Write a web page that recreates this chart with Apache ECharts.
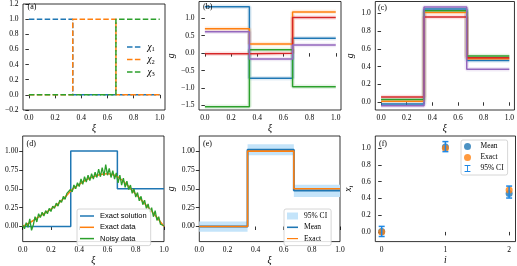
<!DOCTYPE html>
<html><head><meta charset="utf-8">
<script src="https://cdn.jsdelivr.net/npm/echarts@6/dist/echarts.min.js"></script>
<style>html,body{margin:0;padding:0;background:#fff}#c{width:517px;height:266px}</style>
</head><body><div id="c"></div>
<script>
// ---------------- data ----------------
// (a) indicator functions chi_1..3 (level on each of 3 sub-intervals)
const aBreaks = [0.335, 0.665];
const chi1 = [1, 0, 0];
const chi2 = [0, 1, 0];
const chi3 = [0, 0, 1];
// (b) prior samples (levels on the 3 sub-intervals)
const bBreaks = [0.34, 0.67];
const bBlue   = [1.33, -0.72, 0.43];
const bOrange = [0.70, 0.26, 1.18];
const bGreen  = [-1.54, 0.10, -0.96];
const bRed    = [-0.02, 0.00, 1.02];
const bPurple = [0.61, -0.17, 0.23];
// (c) posterior samples
const cBreaks = [0.335, 0.668];
const cBlue   = [-0.02, 1.05, 0.47];
const cOrange = [0.01, 1.01, 0.49];
const cGreen  = [0.03, 1.03, 0.52];
const cRed    = [0.06, 0.96, 0.50];
const cPurple = [-0.04, 1.07, 0.37];
// (d) exact solution, exact data, noisy data
const dBreaks = [0.34, 0.67];
const exactSolution = [0, 1, 0.5];
const exactDataX = [0,0.05,0.1,0.15,0.2,0.25,0.3,0.35,0.4,0.45,0.5,0.55,0.6,0.65,0.7,0.75,0.8,0.85,0.9,0.95,1.0];
const exactData  = [0.0,0.05,0.11,0.17,0.23,0.30,0.39,0.49,0.56,0.62,0.66,0.69,0.70,0.68,0.62,0.53,0.43,0.33,0.23,0.12,0.0];
const noisyData = [0.02,-0.03,0.05,-0.01,0.10,-0.05,0.02,0.13,0.06,0.17,0.12,0.19,0.14,0.21,0.17,0.24,
  0.20,0.27,0.24,0.31,0.27,0.35,0.32,0.40,0.36,0.44,0.42,0.49,0.46,0.55,0.50,0.58,0.53,0.63,0.56,0.66,
  0.59,0.68,0.61,0.70,0.63,0.72,0.65,0.76,0.66,0.78,0.67,0.82,0.68,0.77,0.65,0.74,0.63,0.71,0.58,0.68,
  0.55,0.64,0.52,0.60,0.49,0.55,0.44,0.50,0.39,0.45,0.34,0.40,0.29,0.35,0.24,0.30,0.19,0.25,0.13,0.21,
  0.08,0.13,0.03,0.05,0.01];
// (e) posterior mean, exact, 95% CI band
const eBreaks = [0.343, 0.672];
const eMean  = [0.0, 1.017, 0.478];
const eExact = [0, 1, 0.5];
const eLow   = [-0.07, 0.945, 0.39];
const eHigh  = [0.065, 1.09, 0.555];
// (f) coefficients x_i
const fIdx   = [0, 1, 2];
const fMean  = [0.005, 1.015, 0.46];
const fExact = [0, 1, 0.5];
const fLow   = [-0.055, 0.96, 0.405];
const fHigh  = [0.066, 1.08, 0.548];
// tick values
const xTicks01 = [0, 0.2, 0.4, 0.6, 0.8, 1.0];
const yTicksA = [-0.2, 0, 0.2, 0.4, 0.6, 0.8, 1.0, 1.2];
const yTicksB = [-1.5, -1.0, -0.5, 0, 0.5, 1.0];
const yTicksC = [0, 0.2, 0.4, 0.6, 0.8, 1.0];
const yTicksDE = [0, 0.25, 0.5, 0.75, 1.0];
const yTicksF = [0, 0.2, 0.4, 0.6, 0.8, 1.0];
const xTicksF = [0, 1, 2];

// ---------------- styling ----------------
const SERIF = 'Liberation Serif', SANS = 'Liberation Sans';
const COL = {blue:'#1f77b4', orange:'#ff7f0e', green:'#2ca02c', red:'#d62728', purple:'#9467bd'};
const BAND = '#c4e4fa';
const ERR = '#1e88e5';
const ICON_LINE = 'path://M0,0H14V1.5H0Z';
const ICON_LINE2 = 'path://M0,0H14V2H0Z';
const ICON_DASH = 'path://M0,0H5.5V1.5H0Z M7.9,0H13.4V1.5H7.9Z';
const ICON_ERR = 'path://M0,0H10V1.6H5.8V10.4H10V12H0V10.4H4.2V1.6H0Z';

function steps(levels, br) {
  const xs = [0, ...br, 1]; const out = [];
  levels.forEach((v, i) => { out.push([xs[i], v], [xs[i + 1], v]); });
  return out;
}
const fmt = d => v => (v < 0 ? '\u2212' : '') + Math.abs(v).toFixed(d);

function xAx(gi, min, max, ticks, dec, name) {
  return {type:'value', gridIndex:gi, min, max, name, nameLocation:'middle', nameGap:12,
    nameTextStyle:{fontFamily:SERIF, fontStyle:'italic', fontSize:9.5, color:'#000'},
    axisLine:{show:false}, splitLine:{show:false},
    axisTick:{show:true, customValues:ticks, length:3.5, lineStyle:{color:'#000', width:0.8}},
    axisLabel:{customValues:ticks, formatter:fmt(dec), fontSize:7.5, color:'#000', margin:4.5, fontFamily:SERIF}};
}
function yAx(gi, min, max, ticks, dec, name, gap, rich) {
  const o = {type:'value', gridIndex:gi, min, max, name, nameLocation:'middle', nameGap:gap, nameRotate:90,
    nameTextStyle:{fontFamily:SERIF, fontStyle:'italic', fontSize:9.5, color:'#000'},
    axisLine:{show:false}, splitLine:{show:false},
    axisTick:{show:true, customValues:ticks, length:3.5, lineStyle:{color:'#000', width:0.8}},
    axisLabel:{customValues:ticks, formatter:fmt(dec), fontSize:7.5, color:'#000', margin:4.5, fontFamily:SERIF}};
  if (rich) o.nameTextStyle.rich = rich;
  return o;
}
function line(name, gi, data, color, extra) {
  return Object.assign({type:'line', name, xAxisIndex:gi, yAxisIndex:gi, data, symbol:'none',
    lineStyle:{color, width:1.5}, itemStyle:{color}, clip:true}, extra || {});
}
function halo(gi, data, color) {
  return {type:'line', xAxisIndex:gi, yAxisIndex:gi, data, symbol:'none', silent:true,
    lineStyle:{color, width:4.5, opacity:0.13}, clip:true};
}

const grids = [
  {left:23, top:1.5, width:142, height:108.5},
  {left:199, top:1.5, width:142, height:108.5},
  {left:375.3, top:1.5, width:139.2, height:108.5},
  {left:22.7, top:136, width:141.3, height:109},
  {left:199.3, top:136, width:140.7, height:109},
  {left:375.3, top:136, width:140.2, height:109}
].map(g => Object.assign(g, {show:true, borderColor:'#000', borderWidth:0.8, backgroundColor:'transparent'}));

const series = [];
// (a)
[[ 'a|1', chi1, COL.blue], ['a|2', chi2, COL.orange], ['a|3', chi3, COL.green]].forEach(([n, lv, c]) => {
  series.push(line(n, 0, steps(lv, aBreaks), c, {lineStyle:{color:c, width:1.5, type:[5.5, 2.4]}}));
});
// (b)
[[bBlue, COL.blue], [bOrange, COL.orange], [bGreen, COL.green], [bRed, COL.red], [bPurple, COL.purple]].forEach(([lv, c]) => {
  series.push(halo(1, steps(lv, bBreaks), c));
});
[[bBlue, COL.blue], [bOrange, COL.orange], [bGreen, COL.green], [bRed, COL.red], [bPurple, COL.purple]].forEach(([lv, c], i) => {
  series.push(line('b' + i, 1, steps(lv, bBreaks), c));
});
// (c)
[[cBlue, COL.blue], [cOrange, COL.orange], [cGreen, COL.green], [cRed, COL.red], [cPurple, COL.purple]].forEach(([lv, c]) => {
  series.push(halo(2, steps(lv, cBreaks), c));
});
[[cBlue, COL.blue], [cOrange, COL.orange], [cGreen, COL.green], [cRed, COL.red], [cPurple, COL.purple]].forEach(([lv, c], i) => {
  series.push(line('c' + i, 2, steps(lv, cBreaks), c));
});
// (d)
series.push(line('d|Exact solution', 3, steps(exactSolution, dBreaks), COL.blue));
series.push(line('d|Exact data', 3, exactDataX.map((x, i) => [x, exactData[i]]), COL.orange, {smooth:0.3}));
series.push(line('d|Noisy data', 3, noisyData.map((v, i) => [i / (noisyData.length - 1), v]), COL.green, {lineStyle:{color:COL.green, width:1.3}}));
// (e)
const eX = [0, ...eBreaks, 1];
series.push({type:'custom', name:'e|95% CI', xAxisIndex:4, yAxisIndex:4, clip:true, itemStyle:{color:BAND},
  data: eLow.map((lo, i) => [eX[i], eX[i + 1], lo, eHigh[i]]),
  encode:{x:[0, 1], y:[2, 3]},
  renderItem: (params, api) => {
    const p0 = api.coord([api.value(0), api.value(3)]);
    const p1 = api.coord([api.value(1), api.value(2)]);
    return {type:'rect', shape:{x:p0[0], y:p0[1], width:p1[0] - p0[0], height:p1[1] - p0[1]}, style:{fill:BAND}};
  }});
series.push(line('e|Mean', 4, steps(eMean, eBreaks), COL.blue, {lineStyle:{color:COL.blue, width:2}}));
series.push(line('e|Exact', 4, steps(eExact, eBreaks), COL.orange, {lineStyle:{color:COL.orange, width:1.6}}));
// (f)
series.push({type:'scatter', name:'f|Mean', xAxisIndex:5, yAxisIndex:5, symbolSize:7,
  itemStyle:{color:COL.blue}, data: fIdx.map((x, i) => [x, fMean[i]]), z:2});
series.push({type:'scatter', name:'f|Exact', xAxisIndex:5, yAxisIndex:5, symbolSize:7,
  itemStyle:{color:COL.orange}, data: fIdx.map((x, i) => [x, fExact[i]]), z:2});
series.push({type:'custom', name:'f|95% CI', xAxisIndex:5, yAxisIndex:5, itemStyle:{color:ERR}, z:3,
  data: fIdx.map((x, i) => [x, fLow[i], fHigh[i]]),
  encode:{x:0, y:[1, 2]},
  renderItem: (params, api) => {
    const top = api.coord([api.value(0), api.value(2)]);
    const bot = api.coord([api.value(0), api.value(1)]);
    const st = {stroke:ERR, lineWidth:1.5};
    return {type:'group', children:[
      {type:'line', shape:{x1:top[0], y1:top[1], x2:bot[0], y2:bot[1]}, style:st},
      {type:'line', shape:{x1:top[0] - 3, y1:top[1], x2:top[0] + 3, y2:top[1]}, style:st},
      {type:'line', shape:{x1:bot[0] - 3, y1:bot[1], x2:bot[0] + 3, y2:bot[1]}, style:st}
    ]};
  }});

const strip = n => n.split('|')[1];
const boxLegend = {orient:'vertical', backgroundColor:'rgba(255,255,255,0.85)', borderColor:'#cccccc', borderWidth:0.8,
  borderRadius:2, itemHeight:7, itemGap:3.3, formatter:strip, selectedMode:false};
const li = (name, icon, color) => ({name, icon, itemStyle:{color}});

const option = {
  animation:false,
  textStyle:{fontFamily:SERIF},
  title: [['(a)', 27.5, 3], ['(b)', 203, 3], ['(c)', 378, 3.5], ['(d)', 26.5, 139.5], ['(e)', 203, 139.5], ['(f)', 379, 139.5]]
    .map(([t, l, tp]) => ({text:t, left:l, top:tp, padding:0, textStyle:{fontSize:8, fontWeight:'normal', fontFamily:SERIF, color:'#000'}})),
  grid: grids,
  xAxis: [
    xAx(0, -0.045, 1.04, xTicks01, 1, 'ξ'),
    xAx(1, -0.045, 1.04, xTicks01, 1, 'ξ'),
    xAx(2, -0.045, 1.04, xTicks01, 1, 'ξ'),
    xAx(3, 0, 1, xTicks01, 1, 'ξ'),
    xAx(4, 0, 1, xTicks01, 1, 'ξ'),
    xAx(5, -0.1, 2.1, xTicksF, 0, 'i')
  ],
  yAxis: [
    yAx(0, -0.2, 1.2, yTicksA, 1, '', 20),
    yAx(1, -1.63, 1.48, yTicksB, 1, 'g', 14),
    yAx(2, -0.087, 1.133, yTicksC, 1, 'g', 20),
    yAx(3, -0.2, 1.2, yTicksDE, 2, '', 20),
    yAx(4, -0.2, 1.2, yTicksDE, 2, 'g', 23),
    yAx(5, -0.116, 1.147, yTicksF, 1, '{x|x}{s|i}', 21,
      {x:{fontFamily:SERIF, fontStyle:'italic', fontSize:9.5}, s:{fontFamily:SERIF, fontStyle:'italic', fontSize:6.5, padding:[5, 0, 0, 0]}})
  ],
  legend: [
    {orient:'vertical', left:127, top:42, padding:0, itemWidth:13.4, itemHeight:8, itemGap:1.5, selectedMode:false,
      data:[li('a|1', ICON_DASH, COL.blue), li('a|2', ICON_DASH, COL.orange), li('a|3', ICON_DASH, COL.green)],
      formatter: n => '{c|χ}{s|' + strip(n) + '}',
      textStyle:{padding:[0, 0, 0, 2], rich:{c:{fontFamily:SERIF, fontStyle:'italic', fontSize:9.5, color:'#000'},
        s:{fontFamily:SERIF, fontSize:6.5, color:'#000', padding:[5, 0, 0, 0]}}}},
    Object.assign({}, boxLegend, {left:77, top:209, padding:[3, 4, 3, 3], itemWidth:14,
      data:[li('d|Exact solution', ICON_LINE, COL.blue), li('d|Exact data', ICON_LINE, COL.orange), li('d|Noisy data', ICON_LINE, COL.green)],
      textStyle:{fontFamily:SANS, fontSize:7.5, color:'#000', padding:[0, 0, 0, 1]}}),
    Object.assign({}, boxLegend, {left:284, top:209, padding:[3, 4, 3, 3], itemWidth:11,
      data:[li('e|95% CI', 'rect', BAND), li('e|Mean', ICON_LINE2, COL.blue), li('e|Exact', ICON_LINE, COL.orange)],
      textStyle:{fontFamily:SERIF, fontSize:7.5, color:'#000', padding:[0, 0, 0, 1]}}),
    Object.assign({}, boxLegend, {left:461, top:140, padding:[2.5, 4, 2.5, 3], itemWidth:10, itemGap:3,
      data:[li('f|Mean', 'circle', COL.blue), li('f|Exact', 'circle', COL.orange), li('f|95% CI', ICON_ERR, ERR)],
      textStyle:{fontFamily:SERIF, fontSize:7.5, color:'#000', padding:[0, 0, 0, 3]}})
  ],
  series
};
const chart = echarts.init(document.getElementById('c'));
chart.setOption(option);
</script>
</body></html>
